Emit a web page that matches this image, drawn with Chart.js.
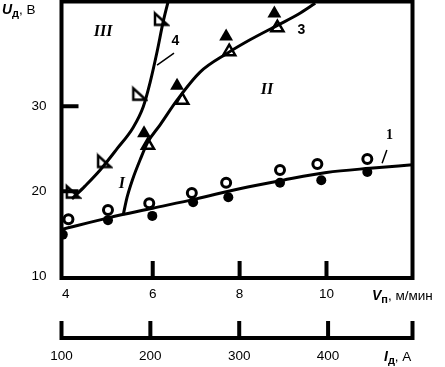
<!DOCTYPE html>
<html><head><meta charset="utf-8">
<script src="https://cdn.jsdelivr.net/npm/chart.js@4/dist/chart.umd.min.js"></script>
<style>html,body{margin:0;padding:0;background:#fff;}</style>
</head><body>
<canvas id="c" width="445" height="367"></canvas>
<script>
// ---- data ----
const curve1X = [3.9, 5, 6, 7, 8, 9, 10, 11, 11.98];
const curve1Y = [15.5, 16.9, 18.0, 19.1, 20.3, 21.3, 22.2, 22.7, 23.1];
const openCircleX = [4.06, 4.97, 5.92, 6.9, 7.69, 8.93, 9.79, 10.94];
const openCircleY = [16.7, 17.8, 18.6, 19.8, 21.0, 22.5, 23.2, 23.8];
const filledCircleX = [3.93, 4.97, 5.99, 6.93, 7.74, 8.93, 9.88, 10.94];
const filledCircleY = [14.9, 16.6, 17.1, 18.7, 19.3, 21.0, 21.3, 22.25];
const curve3X = [5.32, 5.41, 5.53, 5.71, 5.89, 6.17, 6.56, 7.09, 7.71, 8.24, 8.87, 9.35, 9.74];
const curve3Y = [17.2, 19.3, 21.3, 23.7, 25.8, 27.8, 30.7, 34.0, 36.2, 37.8, 39.5, 40.8, 42.1];
const openTriX = [5.89, 6.68, 7.76, 8.87];
const openTriY = [25.4, 30.7, 36.4, 39.2];
const filledTriX = [5.8, 6.56, 7.69, 8.8];
const filledTriY = [26.8, 32.4, 38.2, 40.9];
const curve4X = [4.14, 4.44, 4.79, 5.18, 5.55, 5.78, 5.94, 6.10, 6.24, 6.35];
const curve4Y = [19.1, 20.6, 22.5, 25.0, 27.5, 29.9, 32.8, 36.4, 39.9, 42.2];
const curve4MarkX = [4.16, 4.88, 5.69, 6.19];
const curve4MarkY = [19.9, 23.5, 31.4, 40.2];

const xTicks = [4, 6, 8, 10];
const yTicks = [10, 20, 30];
const iTicks = [100, 200, 300, 400];
const innerXTicks = [6, 8, 10];
const innerYTicks = [20, 30];
const xMin = 3.9, xMax = 11.98, yMin = 9.8, yMax = 42.3, iMin = 100, iMax = 495;

const regionLabels = ['III', 'II', 'I'];
const regionX = [4.86, 8.63, 5.29];
const regionY = [38.7, 31.9, 20.85];
const curveLabels = ['4', '3', '1'];
const curveLabelX = [6.52, 9.42, 11.45];
const curveLabelY = [37.65, 38.95, 26.6];
const leaderX = [[6.10, 6.49], [11.28, 11.39]];
const leaderY = [[34.83, 36.24], [23.3, 24.84]];

const zip = (xs, ys) => xs.map((v, i) => ({x: v, y: ys[i]}));

function cornerTri() {
  const c = document.createElement('canvas');
  c.width = 18; c.height = 18;
  const g = c.getContext('2d');
  g.lineWidth = 2.5; g.strokeStyle = '#000'; g.lineJoin = 'miter';
  g.beginPath(); g.moveTo(3, 3); g.lineTo(3, 14.5); g.lineTo(15.5, 14.5); g.closePath(); g.stroke();
  return c;
}

const SANS = "'Liberation Sans', Arial, sans-serif";
const SERIF = "'Liberation Serif', 'Times New Roman', serif";

function drawTitle(ctx, x, base, main, sub, rest) {
  ctx.textAlign = 'left'; ctx.textBaseline = 'alphabetic';
  ctx.font = "bold italic 14px " + SANS;
  ctx.fillText(main, x, base);
  x += ctx.measureText(main).width;
  ctx.font = "bold 11px " + SANS;
  ctx.fillText(sub, x, base + 3);
  x += ctx.measureText(sub).width;
  ctx.font = "13.5px " + SANS;
  ctx.fillText(rest, x, base);
}

const decor = {
  id: 'decor',
  afterDraw(chart) {
    const {ctx, chartArea: a, scales} = chart;
    const x = scales.x, y = scales.y, x2 = scales.x2;
    ctx.save();
    ctx.strokeStyle = '#000'; ctx.fillStyle = '#000'; ctx.lineWidth = 4;
    ctx.strokeRect(a.left, a.top, a.right - a.left, a.bottom - a.top);
    ctx.beginPath();
    innerYTicks.forEach(v => { const p = y.getPixelForValue(v); ctx.moveTo(a.left, p); ctx.lineTo(a.left + 17, p); });
    innerXTicks.forEach(v => { const p = x.getPixelForValue(v); ctx.moveTo(p, a.bottom); ctx.lineTo(p, a.bottom - 17); });
    ctx.stroke();
    // second axis (current)
    const ay = x2.top;
    ctx.beginPath();
    ctx.moveTo(a.left - 2, ay); ctx.lineTo(a.right + 2, ay);
    [...iTicks, iMax].forEach(v => { const p = x2.getPixelForValue(v); ctx.moveTo(p, ay + 2); ctx.lineTo(p, ay - 17); });
    ctx.stroke();
    // leader lines
    ctx.lineWidth = 1.5;
    ctx.beginPath();
    leaderX.forEach((lx, i) => {
      ctx.moveTo(x.getPixelForValue(lx[0]), y.getPixelForValue(leaderY[i][0]));
      ctx.lineTo(x.getPixelForValue(lx[1]), y.getPixelForValue(leaderY[i][1]));
    });
    ctx.stroke();
    // region labels
    ctx.textAlign = 'center'; ctx.textBaseline = 'middle';
    ctx.font = "bold italic 16px " + SERIF;
    regionLabels.forEach((t, i) => ctx.fillText(t, x.getPixelForValue(regionX[i]), y.getPixelForValue(regionY[i])));
    curveLabels.forEach((t, i) => {
      ctx.font = (t === '1' ? "bold 14px " + SERIF : "bold 14px " + SANS);
      ctx.fillText(t, x.getPixelForValue(curveLabelX[i]), y.getPixelForValue(curveLabelY[i]));
    });
    // axis titles
    drawTitle(ctx, 2, 14, 'U', 'д', ', В');
    drawTitle(ctx, 372, 300, 'V', 'п', ', м/мин');
    drawTitle(ctx, 384, 361, 'I', 'д', ', А');
    ctx.restore();
  }
};

const tickFont = {family: SANS, size: 13.5};

new Chart(document.getElementById('c'), {
  type: 'scatter',
  data: {datasets: [
    {data: zip(openCircleX, openCircleY), pointStyle: 'circle', pointRadius: 4.5, borderWidth: 3, borderColor: '#000', backgroundColor: '#fff', order: 0},
    {data: zip(filledCircleX, filledCircleY), pointStyle: 'circle', pointRadius: 5, borderWidth: 0, backgroundColor: '#000', order: 0},
    {data: zip(openTriX, openTriY), pointStyle: 'triangle', pointRadius: 7, borderWidth: 2.5, borderColor: '#000', backgroundColor: 'rgba(0,0,0,0)', order: 0},
    {data: zip(filledTriX, filledTriY), pointStyle: 'triangle', pointRadius: 8, borderWidth: 0, backgroundColor: '#000', order: 0},
    {data: zip(curve4MarkX, curve4MarkY), pointStyle: cornerTri(), pointRadius: 8, order: 0},
    {data: zip(curve1X, curve1Y), showLine: true, pointRadius: 0, borderColor: '#000', borderWidth: 3, cubicInterpolationMode: 'monotone', order: 1},
    {data: zip(curve3X, curve3Y), showLine: true, pointRadius: 0, borderColor: '#000', borderWidth: 3, cubicInterpolationMode: 'monotone', order: 1},
    {data: zip(curve4X, curve4Y), showLine: true, pointRadius: 0, borderColor: '#000', borderWidth: 3, cubicInterpolationMode: 'monotone', order: 1}
  ]},
  options: {
    responsive: false, animation: false, events: [],
    layout: {autoPadding: false, padding: {left: 0, right: 32.5, top: 1.5, bottom: 0}},
    plugins: {legend: {display: false}, tooltip: {enabled: false}},
    scales: {
      x: {
        type: 'linear', position: 'bottom', weight: 0, min: xMin, max: xMax,
        afterBuildTicks: s => { s.ticks = xTicks.map(v => ({value: v})); },
        afterFit: s => { s.height = 60; s.paddingLeft = 0; s.paddingRight = 0; },
        grid: {display: false, drawTicks: false}, border: {display: false},
        ticks: {color: '#000', font: tickFont, padding: 8, autoSkip: false, maxRotation: 0}
      },
      x2: {
        type: 'linear', axis: 'x', position: 'bottom', weight: 1, min: iMin, max: iMax,
        afterBuildTicks: s => { s.ticks = iTicks.map(v => ({value: v})); },
        afterFit: s => { s.height = 29; s.paddingLeft = 0; s.paddingRight = 0; },
        grid: {display: false, drawTicks: false}, border: {display: false},
        ticks: {color: '#000', font: tickFont, padding: 10, autoSkip: false, maxRotation: 0}
      },
      y: {
        type: 'linear', position: 'left', min: yMin, max: yMax,
        afterBuildTicks: s => { s.ticks = yTicks.map(v => ({value: v})); },
        afterFit: s => { s.width = 61.5; s.paddingTop = 0; s.paddingBottom = 0; },
        grid: {display: false, drawTicks: false}, border: {display: false},
        ticks: {color: '#000', font: tickFont, padding: 15, autoSkip: false}
      }
    }
  },
  plugins: [decor]
});
</script>
</body></html>
